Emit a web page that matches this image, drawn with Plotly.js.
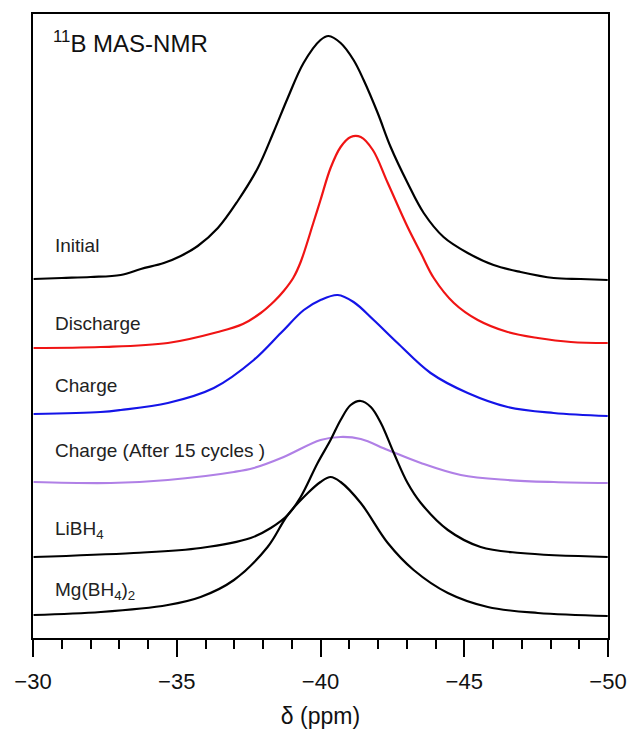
<!DOCTYPE html>
<html>
<head>
<meta charset="utf-8">
<script src="https://cdn.plot.ly/plotly-3.0.1.min.js"></script>
<style>html,body{margin:0;padding:0;background:#fff;}#chart{width:631px;height:729px;}</style>
</head>
<body>
<div id="chart"></div>
<script>
// Chemical shift (ppm) and offset intensity (arb. units) for each spectrum
const initialX = [-30.02,-31.0,-32.0,-33.05,-33.75,-34.55,-35.14,-35.73,-36.43,-37.12,-37.82,-38.37,-38.86,-39.41,-40.0,-40.28,-40.7,-41.15,-41.5,-41.99,-42.44,-43.03,-43.59,-44.28,-45.12,-46.02,-46.96,-48.11,-49.05,-49.99];
const initialY = [359,360,361,363,369,375,382,392,410,437,470,506,540,575,598,602,595,578,558,525,491,455,425,401,385,373,366,360,359,358];

const dischargeX = [-30.02,-32.35,-34.69,-36.43,-37.3,-37.92,-38.4,-38.72,-39.05,-39.31,-39.76,-40.0,-40.35,-40.7,-41.05,-41.4,-41.82,-42.34,-43.03,-43.49,-43.94,-44.64,-45.47,-46.51,-47.56,-48.71,-49.99];
const dischargeY = [290,291,295,306,314,325,337,347,360,376,416,438,470,491,501,501,488,455,411,385,360,335,318,306,300,296,295];

const chargeX = [-30.02,-32.35,-33.05,-34.69,-36.29,-37.68,-38.62,-39.42,-40.0,-40.6,-41.15,-41.85,-42.68,-43.83,-45.12,-46.51,-48.11,-49.99];
const chargeY = [224,226,228,235,250,278,305,328,338,343,336,318,295,265,245,231,225,222];

const cyc15X = [-30.02,-32.7,-34.69,-36.99,-37.68,-38.72,-40.0,-40.7,-41.4,-42.34,-43.49,-44.88,-46.51,-48.11,-49.99];
const cyc15Y = [156,155,158,166,170,181,198,201,199,188,175,163,158,156,155];

const libh4X = [-30.02,-33.5,-35.83,-37.57,-38.27,-38.86,-39.31,-39.9,-40.35,-40.7,-41.05,-41.4,-41.75,-42.1,-42.55,-43.03,-43.49,-44.43,-45.57,-46.96,-49.99];
const libh4Y = [81,85,90,100,110,123,141,175,198,218,233,237,231,215,185,155,135,108,91,85,81];

const mgX = [-30.02,-32.36,-34.69,-35.83,-36.99,-38.16,-38.86,-39.56,-40.0,-40.35,-40.7,-41.4,-42.34,-43.24,-44.43,-45.82,-47.56,-49.99];
const mgY = [23,26,33,41,58,91,123,145,156,161,156,135,95,68,45,31,25,22];

const seriesNames = ['Initial','Discharge','Charge','Charge (After 15 cycles )','LiBH<sub>4</sub>','Mg(BH<sub>4</sub>)<sub>2</sub>'];
const seriesColors = ['#000000','#f01414','#1414e8','#b080e6','#000000','#000000'];
const labelY = [393,315,253,188,108,47];
const xTicks = [-30,-35,-40,-45,-50];

const xs = [initialX,dischargeX,chargeX,cyc15X,libh4X,mgX];
const ys = [initialY,dischargeY,chargeY,cyc15Y,libh4Y,mgY];

const traces = xs.map((x,i)=>({
  x:x, y:ys[i], type:'scatter', mode:'lines', name:seriesNames[i],
  line:{color:seriesColors[i], width:2.2, shape:'spline', smoothing:1},
  hoverinfo:'skip'
}));

const font = 'Arial, "Liberation Sans", sans-serif';
const annotations = seriesNames.map((t,i)=>({
  x:-30.68, y:labelY[i], xref:'x', yref:'y', text:t, showarrow:false,
  xanchor:'left', yanchor:'middle', font:{family:font, size:19, color:'#222'}
}));
annotations.push({x:-30.62, y:596, xref:'x', yref:'y', text:'<sup>11</sup>B MAS-NMR', showarrow:false,
  xanchor:'left', yanchor:'middle', font:{family:font, size:24, color:'#111'}});

const layout = {
  width:631, height:729,
  margin:{l:33, r:23, t:14, b:91},
  paper_bgcolor:'#fff', plot_bgcolor:'#fff',
  showlegend:false,
  font:{family:font, color:'#111'},
  xaxis:{
    range:[-30,-50], tickvals:xTicks, ticks:'outside', ticklen:17, tickwidth:2, tickcolor:'#000',
    ticklabelstandoff:6,
    showline:true, linewidth:2, linecolor:'#000', mirror:true,
    showgrid:false, zeroline:false,
    minor:{dtick:1, ticks:'outside', ticklen:9, tickwidth:2, tickcolor:'#000', showgrid:false},
    tickfont:{family:font, size:22, color:'#111'},
    title:{text:'δ (ppm)', font:{family:font, size:23, color:'#111'}, standoff:14}
  },
  yaxis:{
    range:[0,624], showline:true, linewidth:2, linecolor:'#000', mirror:true,
    showgrid:false, zeroline:false, ticks:'', showticklabels:false
  },
  annotations:annotations
};

Plotly.newPlot('chart', traces, layout, {staticPlot:true, displayModeBar:false});
</script>
</body>
</html>
